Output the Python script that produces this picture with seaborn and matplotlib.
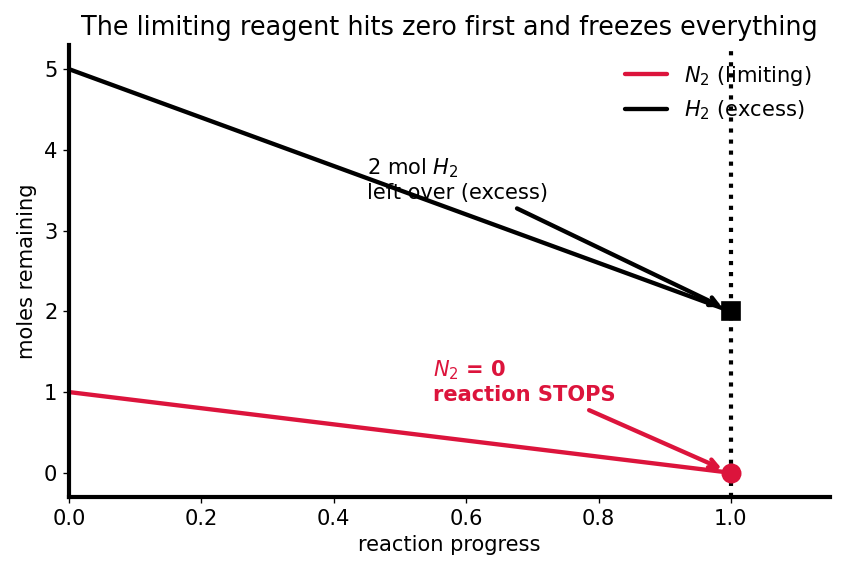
import pandas as pd
import matplotlib.pyplot as plt
import seaborn as sns

# Reaction progress and moles left of each reactant
progress = [0.0, 1.0]
n2_moles = [1.0, 0.0]
h2_moles = [5.0, 2.0]
n2_label = "$N_2$ (limiting)"
h2_label = "$H_2$ (excess)"

sns.set_style("ticks")
plt.rcParams['font.family'] = ['DejaVu Sans']
for key in ["text.color", "axes.labelcolor", "xtick.color", "ytick.color", "axes.edgecolor"]:
    plt.rcParams[key] = "black"

df = pd.DataFrame({
    "progress": progress * 2,
    "moles": n2_moles + h2_moles,
    "species": [n2_label] * 2 + [h2_label] * 2,
})

fig = plt.figure(figsize=(842 / 120, 573 / 120), dpi=120)
ax = fig.add_axes([0.082, 0.1326, 0.904, 0.789])

red = "#DC143C"
fs = 12.6
sns.lineplot(data=df, x="progress", y="moles", hue="species",
             palette={n2_label: red, h2_label: "black"}, linewidth=2.6, ax=ax)

# end points
ax.axvline(progress[-1], color="black", linestyle=":", linewidth=2.5, zorder=2)
ax.plot(progress[-1], n2_moles[-1], "o", color=red, markersize=11, zorder=5)
ax.plot(progress[-1], h2_moles[-1], "s", color="black", markersize=11, zorder=5)

ax.annotate("2 mol $H_2$\nleft over (excess)", xy=(1.0, 2.0), xytext=(0.45, 3.63),
            fontsize=fs, va="center", ha="left",
            arrowprops=dict(arrowstyle="->", color="black", lw=2.6, shrinkB=6))
ax.annotate("$N_2$ = 0\nreaction STOPS", xy=(1.0, 0.0), xytext=(0.55, 1.13),
            fontsize=fs, va="center", ha="left", color=red, fontweight="bold",
            arrowprops=dict(arrowstyle="->", color=red, lw=2.6, shrinkB=6))

ax.set_xlim(0, 1.15)
ax.set_ylim(-0.3, 5.3)
ax.set_xlabel("reaction progress", fontsize=fs)
ax.set_ylabel("moles remaining", fontsize=fs)
ax.set_title("The limiting reagent hits zero first and freezes everything", fontsize=15.3)
ax.tick_params(labelsize=fs)
for s in ["left", "bottom"]:
    ax.spines[s].set_linewidth(2.5)
sns.despine(ax=ax)
ax.legend(frameon=False, fontsize=fs, loc="upper right")

plt.savefig("out.png", dpi=120)
